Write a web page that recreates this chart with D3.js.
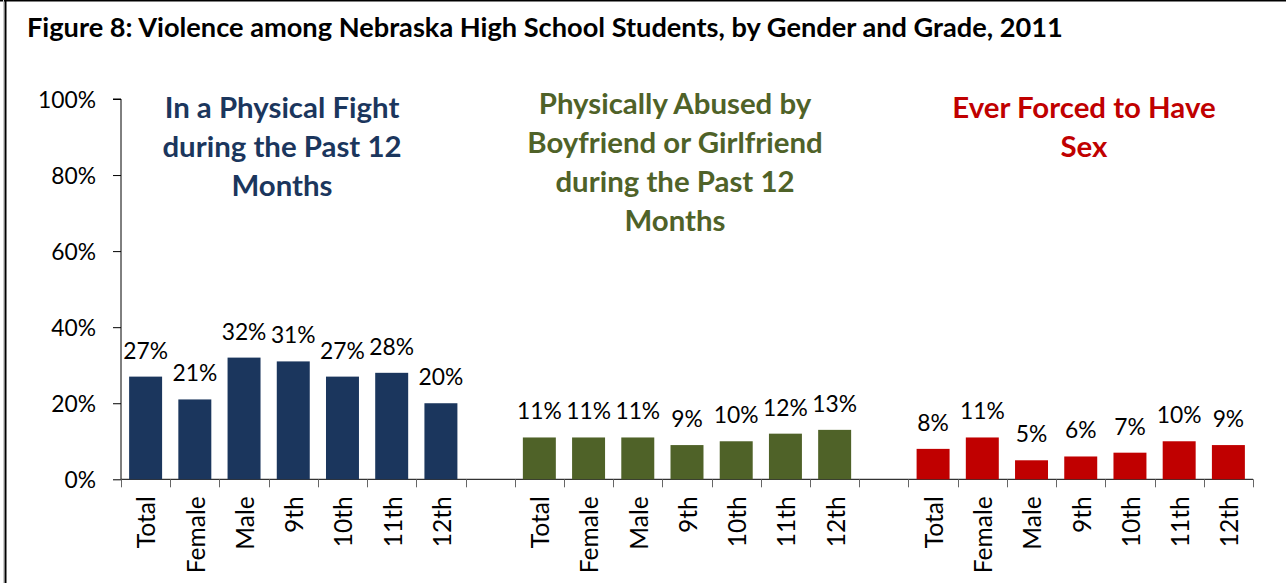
<!DOCTYPE html>
<html>
<head>
<meta charset="utf-8">
<script src="https://cdn.jsdelivr.net/npm/d3@7"></script>
<style>
  html, body { margin: 0; padding: 0; background: #fff; }
  svg { display: block; }
  text { font-family: Lato, "Open Sans", sans-serif; }
</style>
</head>
<body>
<svg id="chart" width="1286" height="583"></svg>
<script>
// ---- data ----
const chartTitle = "Figure 8: Violence among Nebraska High School Students, by Gender and Grade, 2011";
const categories = ["Total", "Female", "Male", "9th", "10th", "11th", "12th"];
const fightValues = [27, 21, 32, 31, 27, 28, 20];
const abusedValues = [11, 11, 11, 9, 10, 12, 13];
const forcedValues = [8, 11, 5, 6, 7, 10, 9];
const fightTitle = ["In a Physical Fight", "during the Past 12", "Months"];
const abusedTitle = ["Physically Abused by", "Boyfriend or Girlfriend", "during the Past 12", "Months"];
const forcedTitle = ["Ever Forced to Have", "Sex"];
const yTicks = [0, 20, 40, 60, 80, 100];
const colors = ["#1B365D", "#4F6228", "#C00000"];

const groups = [
  { values: fightValues, title: fightTitle, color: colors[0] },
  { values: abusedValues, title: abusedTitle, color: colors[1] },
  { values: forcedValues, title: forcedTitle, color: colors[2] }
];

// slots: 7 bars, an empty gap, 7 bars, gap, 7 bars
const slots = [];
const rows = [];
groups.forEach((g, gi) => {
  categories.forEach((c, i) => {
    const key = gi + "-" + c;
    slots.push(key);
    rows.push({ key, cat: c, value: g.values[i], color: g.color });
  });
  if (gi < groups.length - 1) slots.push("gap-" + gi);
});

const svg = d3.select("#chart");
const W = 1286, H = 583;
const plot = { left: 121, right: 1253, top: 99, bottom: 479.3 };

const x = d3.scaleBand().domain(slots).range([plot.left, plot.right])
  .paddingInner(0.33).paddingOuter(0.165);
const step = x.step();
const y = d3.scaleLinear().domain([0, 100]).range([plot.bottom, plot.top]);

// frame lines (top and left border)
svg.append("line").attr("x1", 0).attr("x2", W).attr("y1", 0.5).attr("y2", 0.5)
  .attr("stroke", "#000").attr("stroke-width", 2);
svg.append("line").attr("x1", 5.5).attr("x2", 5.5).attr("y1", 0).attr("y2", H)
  .attr("stroke", "#000").attr("stroke-width", 2);
svg.append("line").attr("x1", 3.5).attr("x2", 3.5).attr("y1", 0).attr("y2", H)
  .attr("stroke", "#ccc").attr("stroke-width", 1);

// helper to fit font size to a measured width
function fitSize(sample, weight, targetWidth) {
  const t = svg.append("text").attr("font-size", 100).attr("font-weight", weight).text(sample);
  const w = t.node().getComputedTextLength();
  t.remove();
  return 100 * targetWidth / w;
}

const numSize = fitSize("100%", "normal", 58);
const catSize = fitSize("Female", "normal", 77);
const titleSize = fitSize(chartTitle, "bold", 1036);
const grpSize = (fitSize("Boyfriend or Girlfriend", "bold", 297) +
                 fitSize("In a Physical Fight", "bold", 234) +
                 fitSize("Ever Forced to Have", "bold", 263)) / 3;

// title
svg.append("text").attr("x", 27).attr("y", 37)
  .attr("font-size", titleSize).attr("font-weight", "bold").attr("fill", "#000")
  .text(chartTitle);

// y axis
const yAxis = d3.axisLeft(y).tickValues(yTicks).tickFormat(d => d + "%").tickSize(8).tickPadding(17);
const yg = svg.append("g").attr("transform", `translate(${plot.left},0)`).call(yAxis);
yg.select(".domain").attr("stroke", "#000").attr("d", `M-8,${plot.top}H0V${plot.bottom}`);
yg.selectAll(".tick line").attr("stroke", "#000");
yg.selectAll(".tick text").attr("font-size", numSize).attr("fill", "#000")
  .attr("font-family", "Lato, sans-serif").attr("dy", "0.35em");

// x axis: line + tick marks between slots
const xg = svg.append("g");
xg.append("line").attr("x1", plot.left).attr("x2", plot.right)
  .attr("y1", plot.bottom).attr("y2", plot.bottom).attr("stroke", "#000");
const boundaries = slots.map(s => x(s) - x.bandwidth() * 0 - (step - x.bandwidth()) / 2);
boundaries.push(plot.right);
xg.selectAll("line.tk").data(boundaries).join("line").attr("class", "tk")
  .attr("x1", d => Math.round(d) + 0.5).attr("x2", d => Math.round(d) + 0.5)
  .attr("y1", plot.bottom).attr("y2", plot.bottom + 8)
  .attr("stroke", "#666");

// category labels
xg.selectAll("text.cat").data(rows).join("text").attr("class", "cat")
  .attr("transform", d => `translate(${x(d.key) + x.bandwidth() / 2 + 1},${plot.bottom + 17}) rotate(-90)`)
  .attr("text-anchor", "end").attr("dy", "0.36em")
  .attr("font-size", catSize).attr("fill", "#000")
  .text(d => d.cat);

// bars
svg.append("g").selectAll("rect").data(rows).join("rect")
  .attr("x", d => x(d.key)).attr("width", x.bandwidth())
  .attr("y", d => y(d.value)).attr("height", d => y(0) - y(d.value))
  .attr("fill", d => d.color);

// value labels
svg.append("g").selectAll("text").data(rows).join("text")
  .attr("x", d => x(d.key) + x.bandwidth() / 2)
  .attr("y", d => y(d.value) - 18)
  .attr("text-anchor", "middle").attr("font-size", numSize).attr("fill", "#000")
  .text(d => d.value + "%");

// group titles
const titleCenters = [282, 675, 1084];
const titleFirstBaselines = [118.3, 114.3, 118.3];
const lineGap = 39;
groups.forEach((g, gi) => {
  const t = svg.append("text").attr("text-anchor", "middle")
    .attr("font-size", grpSize).attr("font-weight", "bold").attr("fill", g.color);
  g.title.forEach((line, li) => {
    t.append("tspan").attr("x", titleCenters[gi])
      .attr("y", titleFirstBaselines[gi] + li * lineGap).text(line);
  });
});
</script>
</body>
</html>
